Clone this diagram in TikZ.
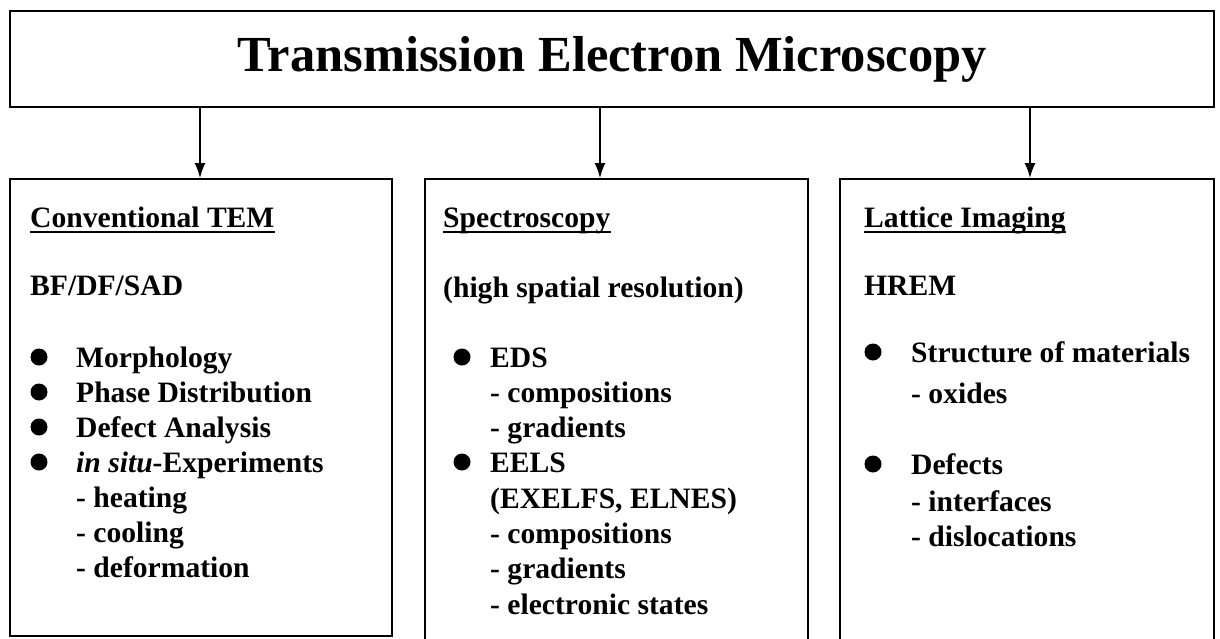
\documentclass[tikz,border=0pt]{standalone}
\usepackage{fontspec}
\setmainfont{Liberation Serif}
\usetikzlibrary{arrows.meta, positioning}

\begin{document}
\begin{tikzpicture}[x=1pt, y=-1pt,
        font=\fontsize{29.6}{35}\selectfont\bfseries,
        frame/.style={rectangle, draw, line width=2.4pt, anchor=north west, inner sep=0pt},
        entry/.style={anchor=base west, inner sep=0pt},
        dot/.style={circle, fill, inner sep=0pt, minimum size=17pt},
        rule/.style={line width=2pt},
        arr/.style={-{Latex[length=15pt, width=11pt]}, line width=1.6pt}
    ]
    \useasboundingbox (0,0) rectangle (1220,638);

    % title and the three panels
    \node[frame, minimum width=1204pt, minimum height=96pt, font=\fontsize{50.5}{60}\selectfont\bfseries] (title) at (9,10) {Transmission Electron Microscopy};
    \node[frame, minimum width=382pt, minimum height=457pt] (tem) at (9,178) {};
    \node[frame, minimum width=383pt, minimum height=480pt] (spec) at (424,178) {};
    \node[frame, minimum width=374pt, minimum height=480pt] (lattice) at (839,178) {};

    \coordinate (tap1) at (200,106);
    \coordinate (tap2) at (600,106);
    \coordinate (tap3) at (1030,106);
    \draw[arr] (tap1) -- (tap1 |- tem.north);
    \draw[arr] (tap2) -- (tap2 |- spec.north);
    \draw[arr] (tap3) -- (tap3 |- lattice.north);

    % conventional TEM
    \node[entry] (temhead) at (30,227) {Conventional TEM};
    \node[entry] (bfdf) at (30,295) {BF/DF/SAD};
    \node[entry] (morph) at (76,367) {Morphology};
    \node[entry] (phase) at (76,402) {Phase Distribution};
    \node[entry] (defect) at (76,437) {Defect Analysis};
    \node[entry] (insitu) at (76,472) {\textit{in situ}-Experiments};
    \node[entry] (heat) at (76,507) {- heating};
    \node[entry] (cool) at (76,542) {- cooling};
    \node[entry] (deform) at (76,577) {- deformation};
    \foreach \y/\n in {367/1, 402/2, 437/3, 472/4}
        \node[dot] (temdot\n) at (39,\y-10) {};

    % spectroscopy
    \node[entry] (spechead) at (443,227) {Spectroscopy};
    \node[entry] (hsr) at (443,297) {(high spatial resolution)};
    \node[entry] (eds) at (490,367) {EDS};
    \node[entry] (edscomp) at (490,402) {- compositions};
    \node[entry] (edsgrad) at (490,437) {- gradients};
    \node[entry] (eels) at (490,472) {EELS};
    \node[entry] (exelfs) at (490,508) {(EXELFS, ELNES)};
    \node[entry] (eelscomp) at (490,543) {- compositions};
    \node[entry] (eelsgrad) at (490,578) {- gradients};
    \node[entry] (estates) at (490,614) {- electronic states};
    \foreach \y/\n in {367/1, 472/2}
        \node[dot] (specdot\n) at (462,\y-10) {};

    % lattice imaging
    \node[entry] (lathead) at (864,227) {Lattice Imaging};
    \node[entry] (hrem) at (864,295) {HREM};
    \node[entry] (struct) at (911,362) {Structure of materials};
    \node[entry] (oxides) at (911,403) {- oxides};
    \node[entry] (defects) at (911,474) {Defects};
    \node[entry] (iface) at (911,511) {- interfaces};
    \node[entry] (disloc) at (911,546) {- dislocations};
    \foreach \y/\n in {362/1, 474/2}
        \node[dot] (latdot\n) at (873,\y-10) {};

    % underlined headings
    \foreach \h in {temhead, spechead, lathead}
        \draw[rule] ([yshift=-5pt]\h.base west) -- ([yshift=-5pt]\h.base east);
\end{tikzpicture}
\end{document}
